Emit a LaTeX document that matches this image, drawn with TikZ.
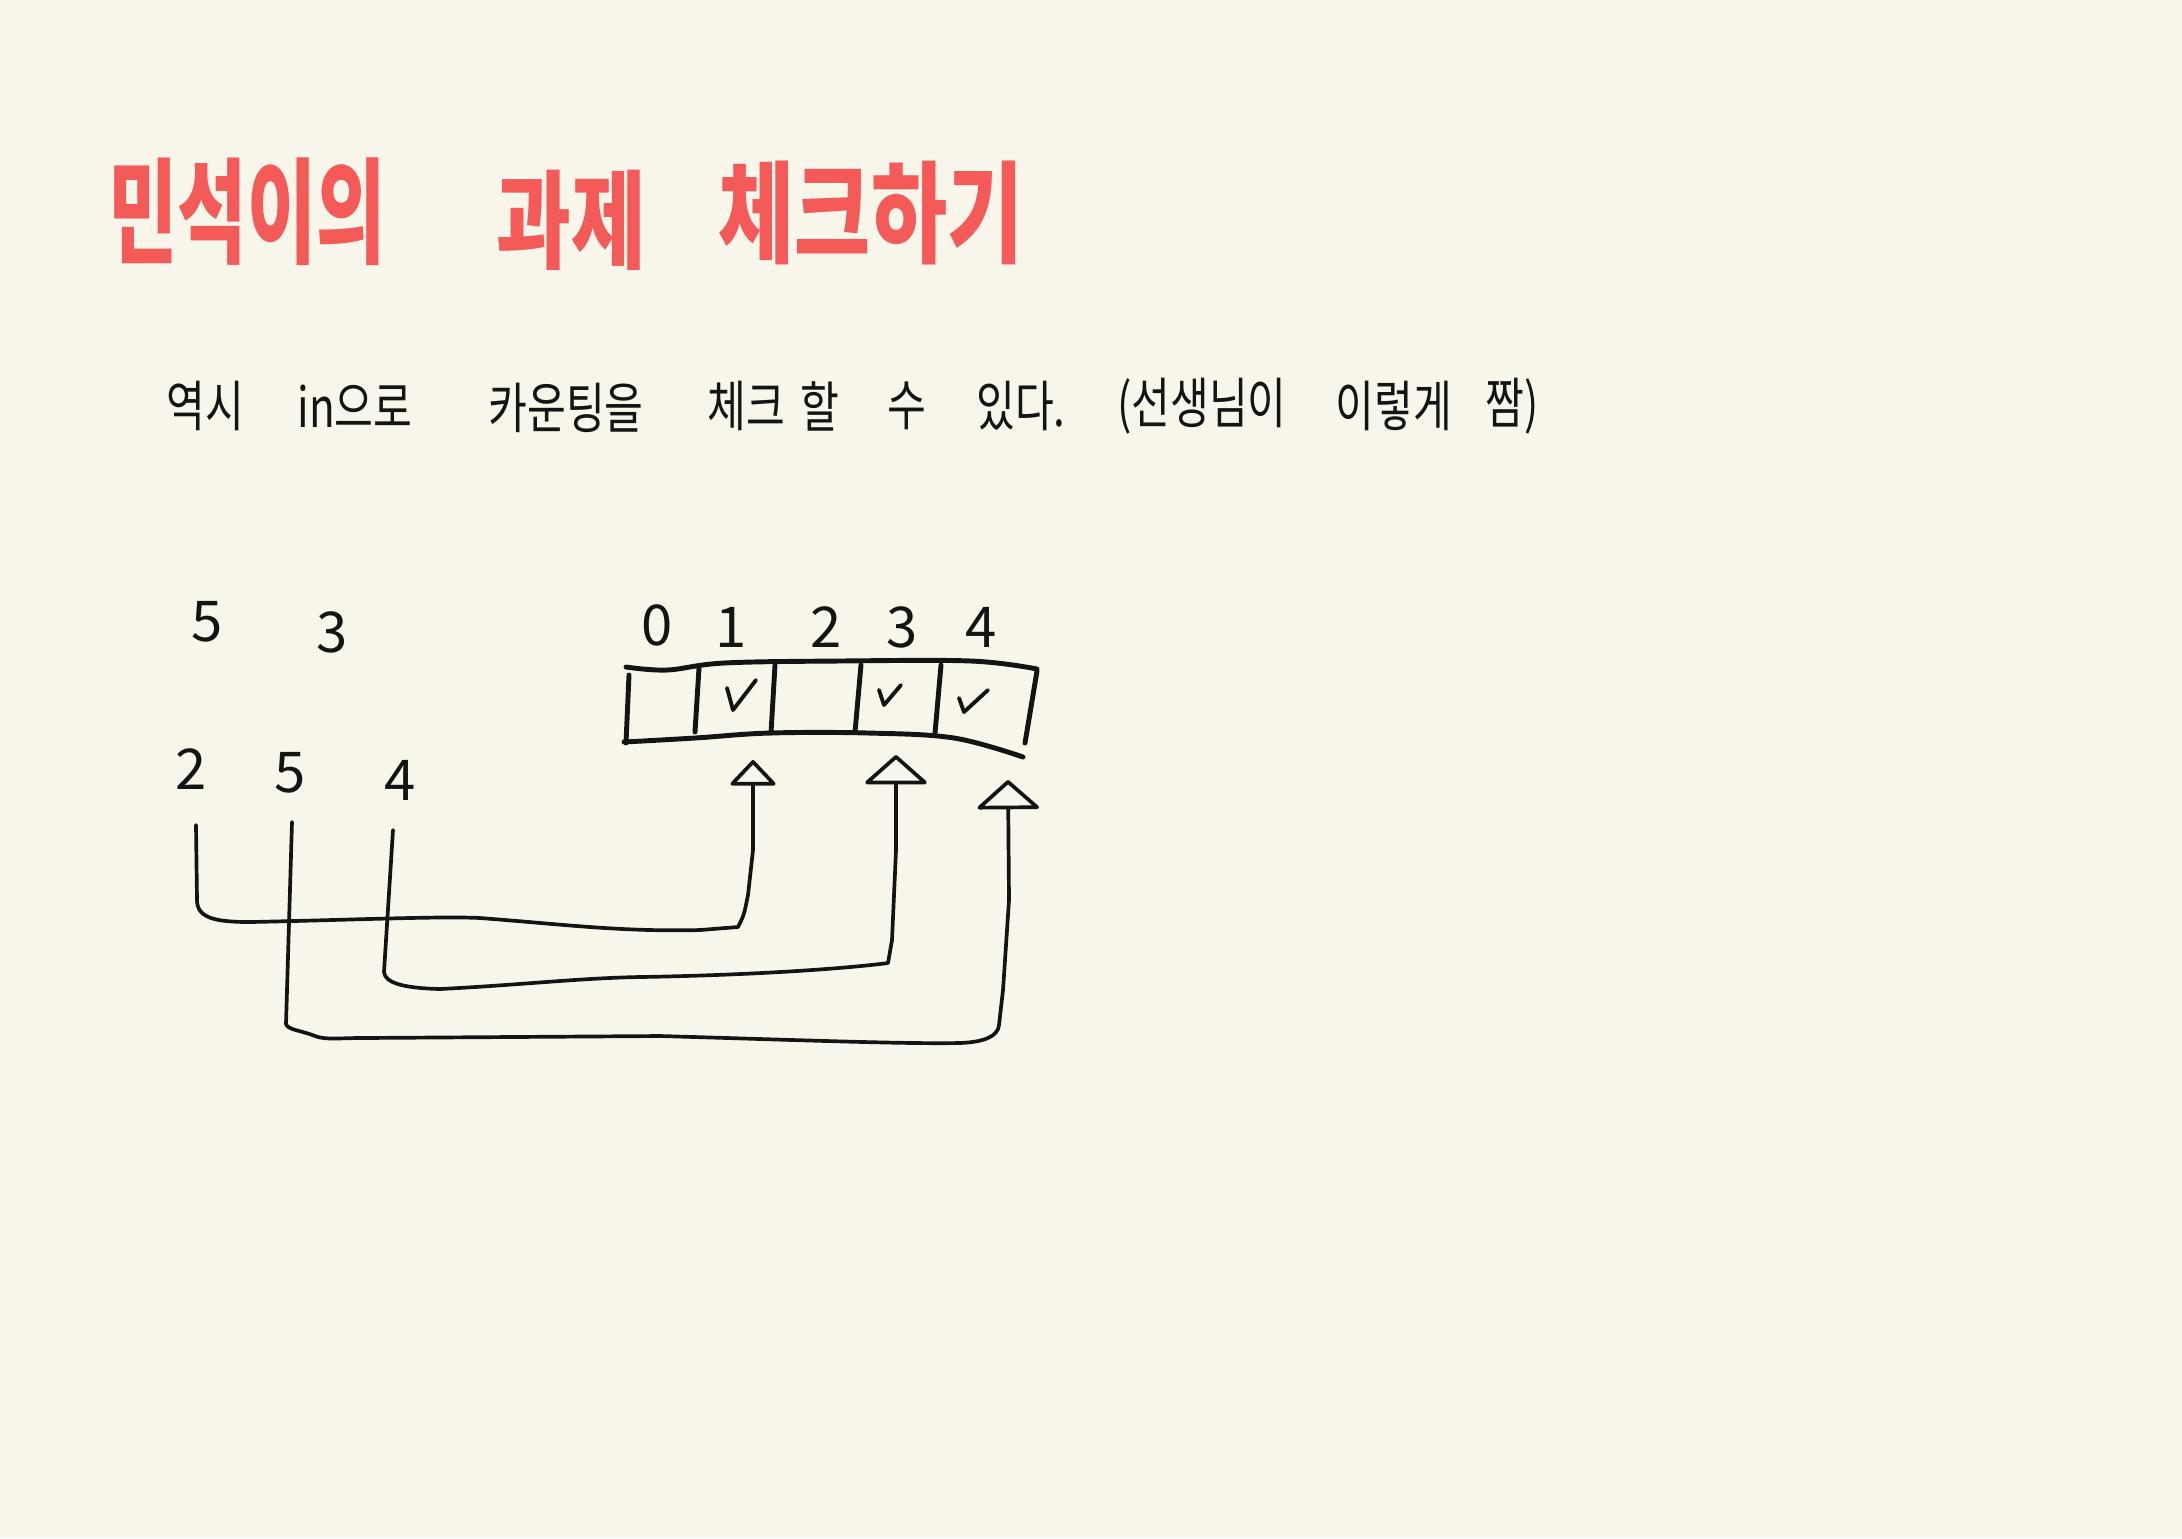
\documentclass[tikz,border=0pt]{standalone}
\usepackage{graphicx}
\usepackage{fontspec}
\setmainfont{Noto Sans CJK KR}
\usetikzlibrary{arrows.meta}
\definecolor{paper}{HTML}{F8F6EB}
\definecolor{titlered}{HTML}{F45B58}
\definecolor{ink}{HTML}{141414}
\newcommand{\tallby}[3]{\scalebox{#1}[#2]{#3}}
\tikzset{
  titletext/.style={text=titlered, inner sep=0pt, font=\fontsize{21}{21}\selectfont\bfseries},
  subtext/.style={text=ink, inner sep=0pt, font=\fontsize{12}{12}\selectfont},
  digit/.style={text=ink, inner sep=0pt, font=\fontsize{16}{16}\selectfont},
  arraystroke/.style={draw=ink, line width=1.4pt, line cap=round, line join=round},
  tickstroke/.style={draw=ink, line width=1.1pt, line cap=round, line join=round},
  conn/.style={draw=ink, line width=1.05pt, line cap=round, line join=round},
  smallhead/.style={-{Triangle[open, length=7.5pt, width=14pt, round]}},
  bighead/.style={-{Triangle[open, length=8.5pt, width=19pt, round]}},
}
\begin{document}
\begin{tikzpicture}[x=0.01cm, y=-0.01cm]
\fill[paper] (0,0) rectangle (2182,1538);
\useasboundingbox (0,0) rectangle (2182,1538);

% title
\node[titletext] (ttl1) at (247,212) {\tallby{1.02}{1.55}{민석이의}};
\node[titletext] (ttl2) at (571,220) {\tallby{1.1}{1.45}{과제}};
\node[titletext] (ttl3) at (871,213) {\tallby{1.12}{1.5}{체크하기}};

% subtitle
\node[subtext] (w1) at (205,406) {\tallby{1}{1.3}{역시}};
\node[subtext] (w2) at (355,406) {\tallby{1}{1.3}{in으로}};
\node[subtext] (w3) at (566,408) {\tallby{1}{1.3}{카운팅을}};
\node[subtext] (w4) at (746,406) {\tallby{1}{1.3}{체크}};
\node[subtext] (w5) at (820,406) {\tallby{1}{1.3}{할}};
\node[subtext] (w6) at (907,406) {\tallby{1}{1.3}{수}};
\node[subtext] (w7) at (1021,406) {\tallby{1}{1.3}{있다.}};
\node[subtext] (w8) at (1202,406) {\tallby{1}{1.3}{(선생님이}};
\node[subtext] (w9) at (1394,406) {\tallby{1}{1.3}{이렇게}};
\node[subtext] (w10) at (1512,406) {\tallby{1}{1.3}{짬)}};

% input numbers
\node[digit] (nA) at (207,622) {5};
\node[digit] (nB) at (332,632) {3};
\node[digit] (n2) at (191,769) {2};
\node[digit] (n5) at (290,773) {5};
\node[digit] (n4) at (400,780) {4};

% index labels
\node[digit] (i0) at (657,625) {0};
\node[digit] (i1) at (731,627) {1};
\node[digit] (i2) at (826,627) {2};
\node[digit] (i3) at (902,627) {3};
\node[digit] (i4) at (981,627) {4};

% array
\draw[arraystroke] plot[smooth, tension=0.6] coordinates {(626,667) (667,670) (724,663) (839,661) (971,661) (1037,669)};
\draw[arraystroke] plot[smooth, tension=0.6] coordinates {(624,742) (695,738) (770,733) (868,733) (954,738) (1023,757)};
\draw[arraystroke] (629,675) -- (626,743);
\draw[arraystroke] (1037,671) -- (1025,743);
\draw[arraystroke] (699,668) -- (695,732);
\draw[arraystroke] (775,665) -- (771,733);
\draw[arraystroke] (861,665) -- (855,732);
\draw[arraystroke] (941,665) -- (935,733);

% check marks
\draw[tickstroke] (727,688) -- (733,710) -- (756,680);
\draw[tickstroke] (879,690) -- (884,705) -- (901,685);
\draw[tickstroke] (959,698) -- (964,712) -- (988,690);

% connector ends
\coordinate (s2) at (196,825);
\coordinate (s4) at (393,830);
\coordinate (s5) at (292,822);
\coordinate (tA) at (753,760);
\coordinate (tB) at (896,755);
\coordinate (tC) at (1008,780);

% connectors
\draw[conn, smallhead] (s2) -- (197,900) .. controls (197,918) and (215,922) .. (250,922)
  .. controls (350,920) and (440,916) .. (480,918)
  .. controls (560,924) and (620,932) .. (700,930) -- (738,927)
  .. controls (744,915) .. (748,895) -- (753,850) -- (tA);
\draw[conn, bighead] (s4) -- (384,972) .. controls (385,982) and (400,988) .. (440,989)
  .. controls (520,985) and (580,978) .. (640,977)
  .. controls (760,975) and (850,968) .. (888,963) -- (892,940) -- (896,850) -- (tB);
\draw[conn, bighead] (s5) -- (286,1024) .. controls (288,1030) and (300,1030) .. (315,1036)
  .. controls (325,1040) and (340,1038) .. (360,1038) -- (660,1036)
  .. controls (800,1040) and (900,1044) .. (960,1043)
  .. controls (985,1042) and (998,1036) .. (999,1025) -- (1003,990) -- (1009,900) -- (tC);
\end{tikzpicture}
\end{document}
